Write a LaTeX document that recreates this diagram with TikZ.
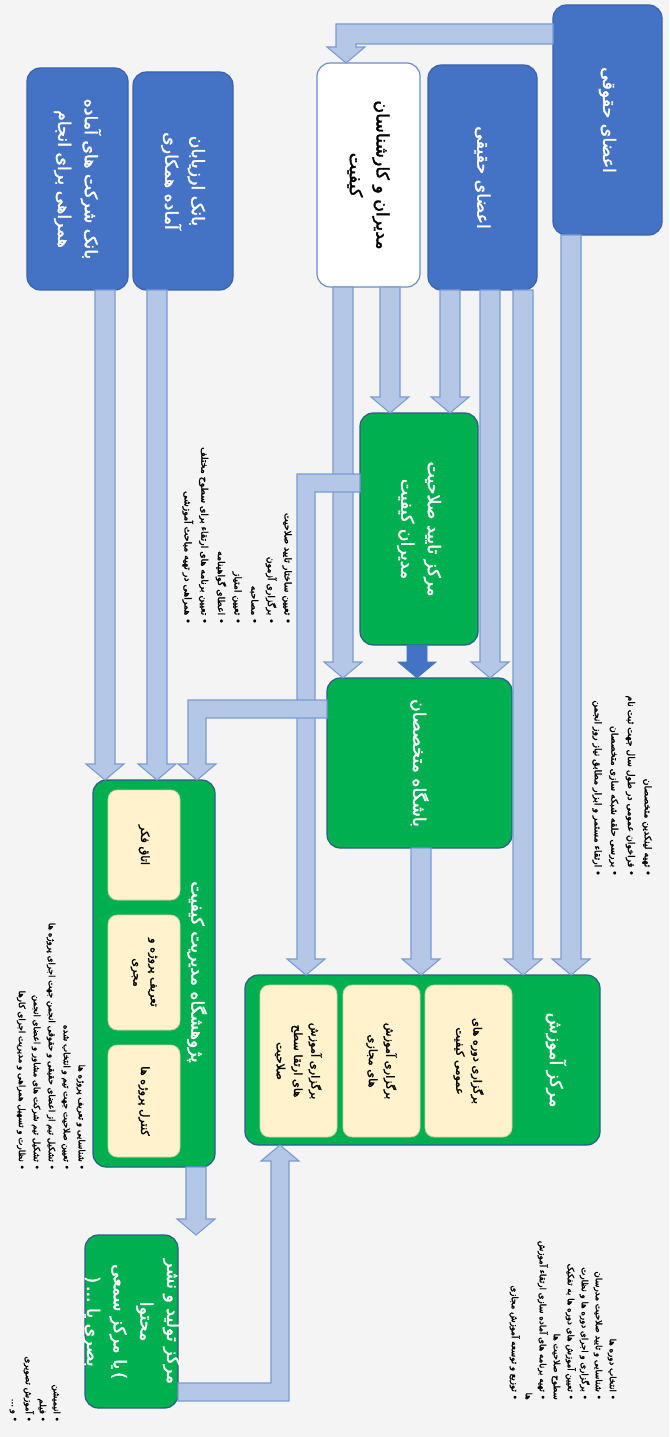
\documentclass[tikz,border=0pt]{standalone}
\usepackage{fontspec}
\usetikzlibrary{calc}
\TeXXeTstate=1
\newfontfamily\fab[Script=Arabic,FakeBold=2]{DejaVu Sans}
\newfontfamily\fal[Script=Arabic,FakeBold=2.2]{DejaVu Sans}
\newcommand\rl[1]{\beginR #1\endR}
\definecolor{blueF}{HTML}{4472C4}
\definecolor{blueD}{HTML}{3A62AC}
\definecolor{blueL}{HTML}{6A8CC8}
\definecolor{greenF}{HTML}{00B050}
\definecolor{greenD}{HTML}{2F5A8A}
\definecolor{creamF}{HTML}{FFF2CC}
\definecolor{creamD}{HTML}{D9CFA6}
\definecolor{arrowF}{HTML}{B4C7E7}
\definecolor{arrowD}{HTML}{7A9BD2}
\definecolor{bgc}{HTML}{F4F4F4}
\tikzset{
 sBox/.style={rounded corners=10pt, line width=0.9pt, inner sep=0pt, outer sep=0pt},
 sBlue/.style={sBox, fill=blueF, draw=blueD},
 sWhite/.style={sBox, fill=white, draw=blueL},
 sGreen/.style={sBox, fill=greenF, draw=greenD},
 sCream/.style={sBox, rounded corners=7pt, fill=creamF, draw=creamD, line width=0.6pt},
 sFlow/.style={fill=arrowF, draw=arrowD, line width=0.8pt, line join=miter},
 sDark/.style={fill=blueF, draw=blueF, line width=0.5pt},
 sTtl/.style={rotate=-90, align=center, text=white, font=\fab\fontsize{13}{20}\selectfont, inner sep=0pt},
 sInn/.style={rotate=-90, align=center, text=black, font=\fab\fontsize{8.5}{13}\selectfont, inner sep=0pt},
 sList/.style={rotate=-90, align=right, anchor=east, text=black, inner sep=0pt},
}
% box node from pixel corners
\newcommand\mkbox[6]{\node[#2, minimum width={(#5-#3)*0.75pt}, minimum height={(#6-#4)*0.75pt}] (#1) at ({(#3+#5)/2},{(#4+#6)/2}) {};}
% vertical block arrow from node #2 (south) down to node #3 (north) at pixel x #4
\newcommand\vdown[4][sFlow]{\path[#1] let \p1=(#2.south), \p2=(#3.north) in
 ({(#4-10)*0.75pt},\y1) -- ({(#4+10)*0.75pt},\y1) -- ({(#4+10)*0.75pt},{\y2+12pt}) --
 ({(#4+19)*0.75pt},{\y2+12pt}) -- ({#4*0.75pt},\y2) -- ({(#4-19)*0.75pt},{\y2+12pt}) --
 ({(#4-10)*0.75pt},{\y2+12pt}) -- cycle;}
\begin{document}
\begin{tikzpicture}[x=0.75pt,y=-0.75pt]
\useasboundingbox (0,0) rectangle (669,1437);
\fill[bgc] (0,0) rectangle (669,1437);

% ---------- boxes ----------
\mkbox{ahq}{sBlue}{553}{5}{662}{235}
\mkbox{ahg}{sBlue}{428}{65}{537}{290}
\mkbox{mod}{sWhite}{317}{63}{420}{287}
\mkbox{bankA}{sBlue}{133}{72}{233}{290}
\mkbox{bankS}{sBlue}{27}{68}{128}{290}
\mkbox{tayid}{sGreen}{360}{413}{478}{645}
\mkbox{bash}{sGreen}{327}{678}{512}{848}
\mkbox{amoz}{sGreen}{245}{975}{600}{1145}
\mkbox{pazh}{sGreen}{93}{780}{215}{1167}
\mkbox{tolid}{sGreen}{85}{1235}{178}{1408}

% ---------- arrows ----------
\path[sFlow] let \p1=(ahq.west), \p2=(mod.north) in
 (\x1,{-24*0.75pt}) -- ({336*0.75pt},{-24*0.75pt}) -- ({336*0.75pt},{\y2+12pt}) --
 ({327*0.75pt},{\y2+12pt}) -- ({346*0.75pt},\y2) -- ({365*0.75pt},{\y2+12pt}) --
 ({356*0.75pt},{\y2+12pt}) -- ({356*0.75pt},{-44*0.75pt}) -- (\x1,{-44*0.75pt}) -- cycle;
\vdown{ahq}{amoz}{571}
\vdown{ahg}{amoz}{523}
\vdown{ahg}{bash}{490}
\vdown{ahg}{tayid}{450}
\vdown{mod}{tayid}{390}
\vdown{mod}{bash}{343}
\vdown{bash}{amoz}{421}
\vdown{bankA}{pazh}{157}
\vdown{bankS}{pazh}{105}
\vdown{pazh}{tolid}{196}
\vdown[sDark]{tayid}{bash}{417}
\path[sFlow] let \p1=(tayid.west), \p2=(amoz.north) in
 (\x1,{-474*0.75pt}) -- ({297*0.75pt},{-474*0.75pt}) -- ({297*0.75pt},{\y2+12pt}) --
 ({287*0.75pt},{\y2+12pt}) -- ({306*0.75pt},\y2) -- ({325*0.75pt},{\y2+12pt}) --
 ({315*0.75pt},{\y2+12pt}) -- ({315*0.75pt},{-492*0.75pt}) -- (\x1,{-492*0.75pt}) -- cycle;
\path[sFlow] let \p1=(bash.west), \p2=(pazh.north) in
 (\x1,{-700*0.75pt}) -- ({188*0.75pt},{-700*0.75pt}) -- ({188*0.75pt},{\y2+12pt}) --
 ({178*0.75pt},{\y2+12pt}) -- ({197*0.75pt},\y2) -- ({216*0.75pt},{\y2+12pt}) --
 ({206*0.75pt},{\y2+12pt}) -- ({206*0.75pt},{-718*0.75pt}) -- (\x1,{-718*0.75pt}) -- cycle;
\path[sFlow] let \p1=(tolid.east), \p2=(amoz.south) in
 (\x1,{-1383*0.75pt}) -- ({271*0.75pt},{-1383*0.75pt}) -- ({271*0.75pt},{\y2-12pt}) --
 ({261*0.75pt},{\y2-12pt}) -- ({280*0.75pt},\y2) -- ({299*0.75pt},{\y2-12pt}) --
 ({289*0.75pt},{\y2-12pt}) -- ({289*0.75pt},{-1401*0.75pt}) -- (\x1,{-1401*0.75pt}) -- cycle;

% ---------- inner boxes ----------
\mkbox{p1}{sCream}{108}{790}{180}{900}
\mkbox{p2}{sCream}{108}{915}{180}{1030}
\mkbox{p3}{sCream}{108}{1045}{180}{1157}
\mkbox{c1}{sCream}{425}{985}{512}{1137}
\mkbox{c2}{sCream}{343}{985}{420}{1137}
\mkbox{c3}{sCream}{260}{985}{337}{1137}

% ---------- box texts ----------
\node[sTtl] (ahqT) at (ahq) {\rl{اعضای حقوقی}};
\node[sTtl] (ahgT) at (ahg) {\rl{اعضای حقیقی}};
\node[sTtl, text=black] (modT) at (mod) {\rl{مدیران و کارشناسان}\\\rl{کیفیت}};
\node[sTtl] (bankAT) at (bankA) {\rl{بانک ارزیابان}\\\rl{آماده همکاری}};
\node[sTtl] (bankST) at (bankS) {\rl{بانک شرکت های آماده}\\\rl{همراهی برای انجام}};
\node[sTtl] (tayidT) at (tayid) {\rl{مرکز تایید صلاحیت}\\\rl{مدیران کیفیت}};
\node[sTtl] (bashT) at (bash) {\rl{باشگاه متخصصان}};
\node[sTtl] (pazhT) at (197,972) {\rl{پژوهشگاه مدیریت کیفیت}};
\node[sTtl] (amozT) at (556,1060) {\rl{مرکز آموزش}};
\node[sTtl] (tolidT) at (tolid) {\rl{مرکز تولید و نشر}\\\rl{محتوا}\\\rl{یا مرکز سمعی}\,)\\(\,\rl{بصری یا ...}};
\node[sInn] (p1T) at (p1) {\rl{اتاق فکر}};
\node[sInn] (p2T) at (p2) {\rl{تعریف پروژه و}\\\rl{مجری}};
\node[sInn] (p3T) at (p3) {\rl{کنترل پروژه ها}};
\node[sInn] (c1T) at (c1) {\rl{برگزاری دوره های}\\\rl{عمومی کیفیت}};
\node[sInn] (c2T) at (c2) {\rl{برگزاری آموزش}\\\rl{های مجازی}};
\node[sInn] (c3T) at (c3) {\rl{برگزاری آموزش}\\\rl{های ارتقا سطح}\\\rl{صلاحیت}};

% ---------- bullet lists ----------
\node[sList, font=\fal\fontsize{7}{12.5}\selectfont] (L1) at (622,876) {%
\rl{• تهیه لینکدین متخصصان}\\
\rl{• فراخوان عمومی در طول سال جهت ثبت نام}\\
\rl{• بررسی حلقه شبکه سازی متخصصان}\\
\rl{• ارتقاء مستمر و ابزار مطابق نیاز روز انجمن}};
\node[sList, font=\fal\fontsize{7}{12.5}\selectfont] (L2) at (237,624) {%
\rl{• تعیین ساختار تایید صلاحیت}\\
\rl{• برگزاری آزمون}\\
\rl{• مصاحبه}\\
\rl{• تعیین امتیاز}\\
\rl{• اعطای گواهینامه}\\
\rl{• تعیین برنامه های ارتقاء برای سطوح مختلف}\\
\rl{• همراهی در تهیه مباحث آموزشی}};
\node[sList, font=\fal\fontsize{6.5}{11.2}\selectfont] (L3) at (51,1170) {%
\rl{• شناسایی و تعریف پروژه ها}\\
\rl{• تعیین صلاحیت جهت تیم و انتخاب شده}\\
\rl{• تشکیل تیم از اعضای حقیقی و حقوقی انجمن جهت اجرای پروژه ها}\\
\rl{• تشکیل تیم شرکت های مشاور و اعضای انجمن}\\
\rl{• نظارت و تسهیل همراهی و مدیریت اجرای کارها}};
\node[sList, font=\fal\fontsize{6.5}{10.5}\selectfont] (L4) at (563,1400) {%
\rl{• انتخاب دوره ها}\\
\rl{• شناسایی و تایید صلاحیت مدرسان}\\
\rl{• برگزاری و اجرای دوره ها و نظارت}\\
\rl{• تعیین آموزش های دوره ها به تفکیک}\\
\rl{سطوح صلاحیت ها}\\
\rl{• تهیه برنامه های آماده سازی ارتقاء آموزش}\\
\rl{ها}\\
\rl{• توزیع و توسعه آموزش مجازی}};
\node[sList, font=\fal\fontsize{6.5}{10.5}\selectfont] (L5) at (35,1422) {%
\rl{• انیمیشن}\\
\rl{• فیلم}\\
\rl{• آموزش تصویری}\\
\rl{• و ...}};
\end{tikzpicture}
\end{document}
